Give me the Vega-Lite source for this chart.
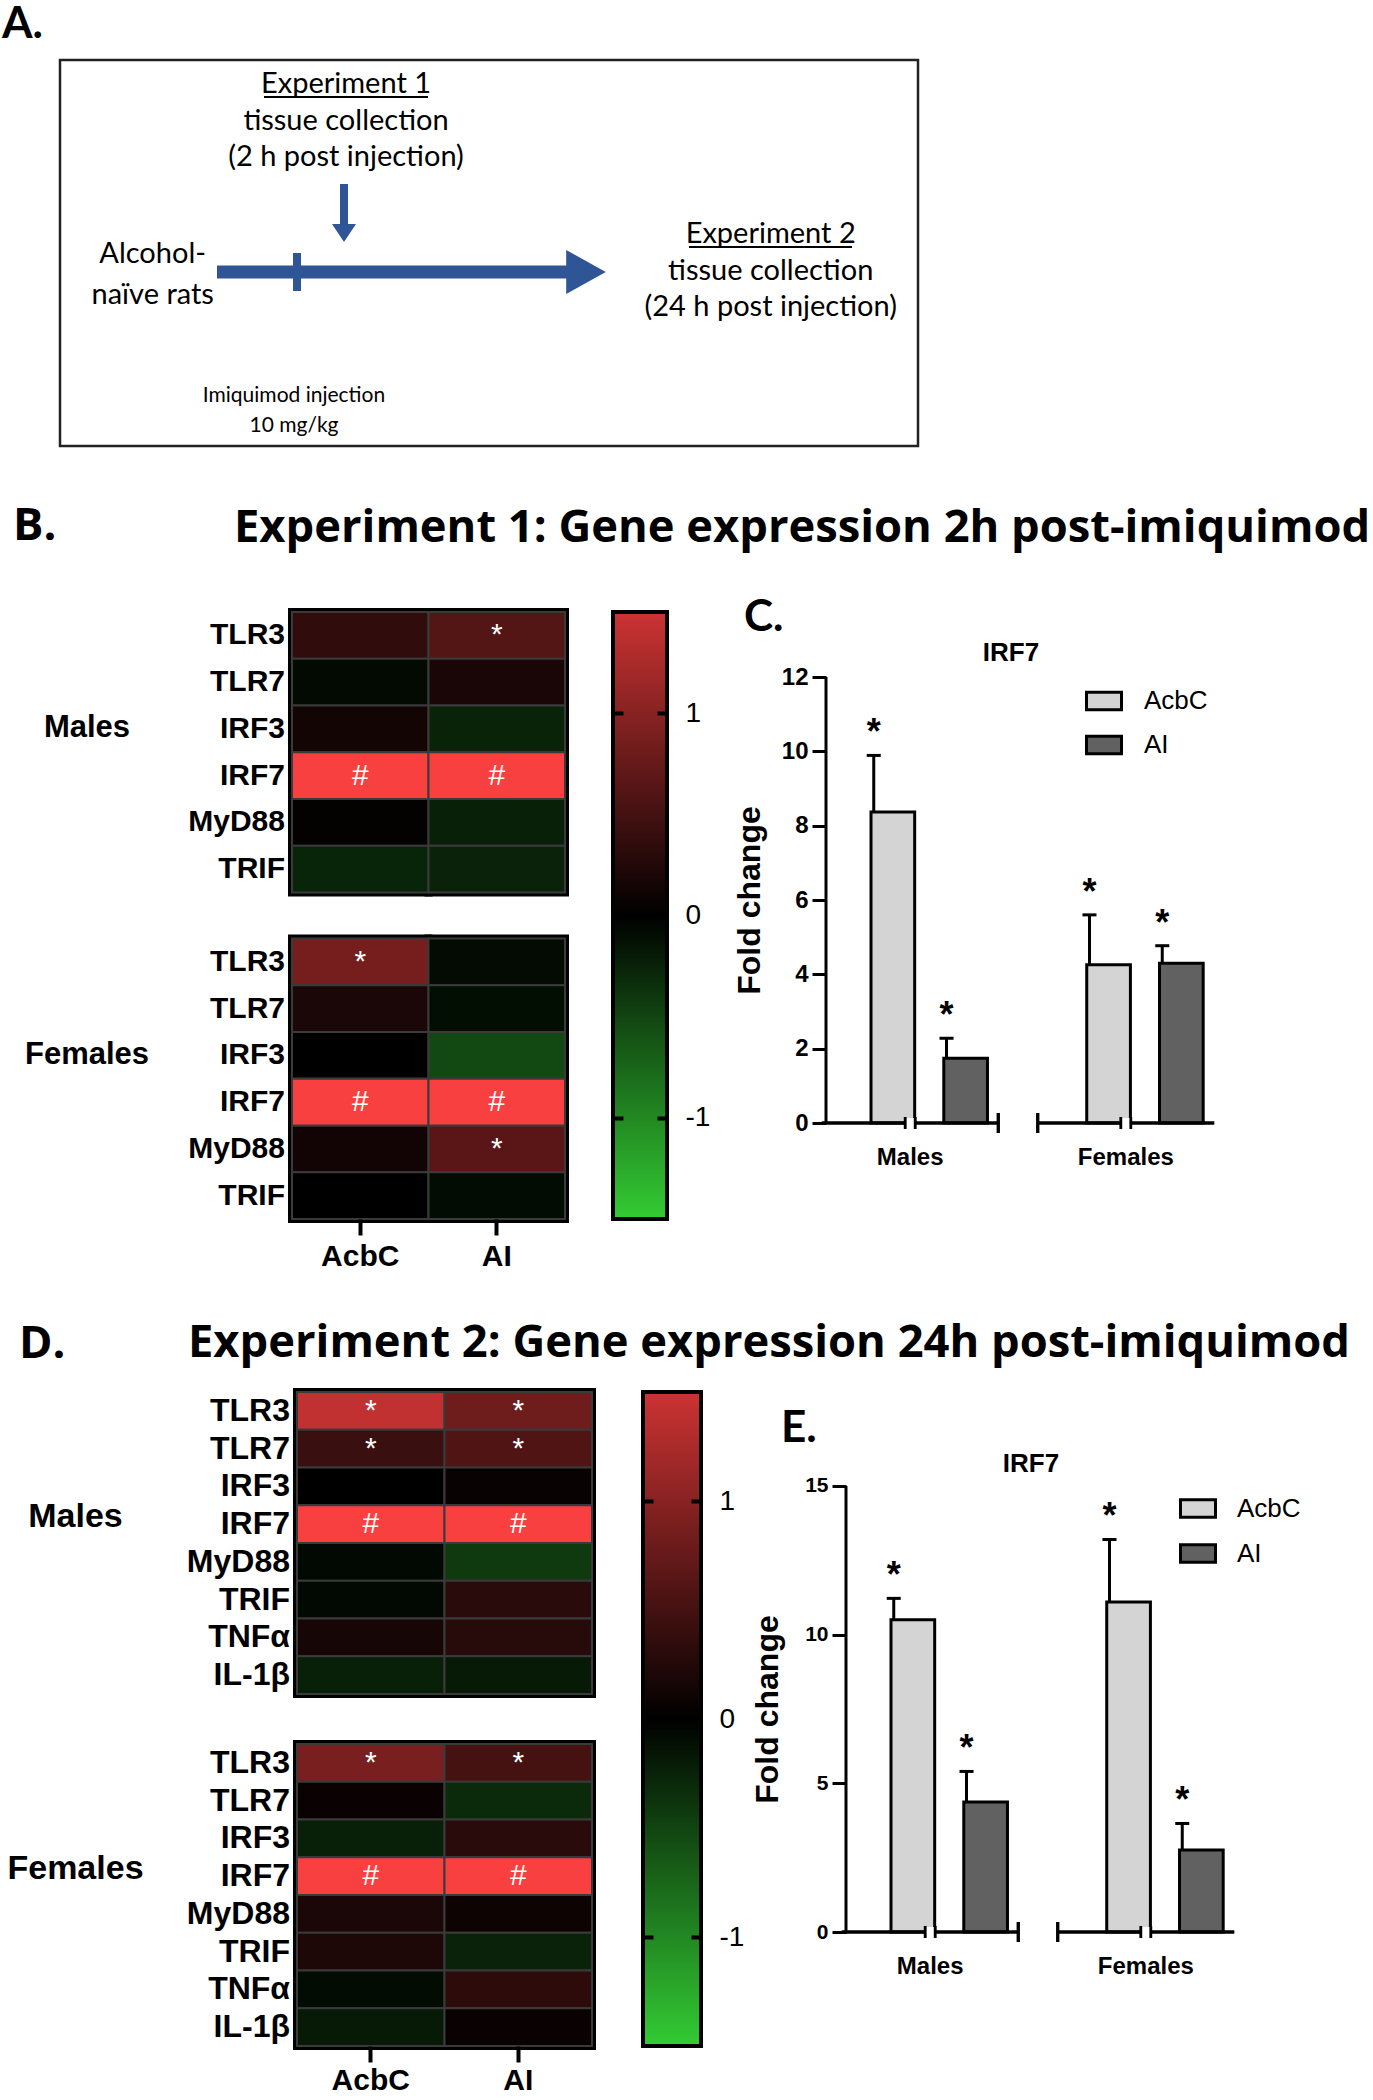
{
"$schema":"https://vega.github.io/schema/vega-lite/v6.json",
"background":"white",
"padding":0,
"spacing":43,
"resolve":{"scale":{"yOffset":"independent","xOffset":"independent","y":"independent","x":"independent","color":"independent"}},
"config":{"view":{"stroke":null},"font":"Liberation Sans","axis":{"labelColor":"black","titleColor":"black","labelFont":"Liberation Sans","titleFont":"Liberation Sans","tickColor":"black","domainColor":"black","labelOverlap":false,"labelFlush":false},"legend":{"labelColor":"black"},"title":{"color":"black"}},
"datasets":{
"b":[{"sex":"Males","gene":"TLR3","region":"AcbC","value":0.35,"sig":""},{"sex":"Males","gene":"TLR3","region":"AI","value":0.62,"sig":"*"},{"sex":"Males","gene":"TLR7","region":"AcbC","value":-0.07,"sig":""},{"sex":"Males","gene":"TLR7","region":"AI","value":0.19,"sig":""},{"sex":"Males","gene":"IRF3","region":"AcbC","value":0.15,"sig":""},{"sex":"Males","gene":"IRF3","region":"AI","value":-0.26,"sig":""},{"sex":"Males","gene":"IRF7","region":"AcbC","value":3,"sig":"#"},{"sex":"Males","gene":"IRF7","region":"AI","value":3,"sig":"#"},{"sex":"Males","gene":"MyD88","region":"AcbC","value":0.03,"sig":""},{"sex":"Males","gene":"MyD88","region":"AI","value":-0.23,"sig":""},{"sex":"Males","gene":"TRIF","region":"AcbC","value":-0.27,"sig":""},{"sex":"Males","gene":"TRIF","region":"AI","value":-0.25,"sig":""},
{"sex":"Females","gene":"TLR3","region":"AcbC","value":0.87,"sig":"*"},{"sex":"Females","gene":"TLR3","region":"AI","value":-0.08,"sig":""},{"sex":"Females","gene":"TLR7","region":"AcbC","value":0.2,"sig":""},{"sex":"Females","gene":"TLR7","region":"AI","value":-0.1,"sig":""},{"sex":"Females","gene":"IRF3","region":"AcbC","value":0.0,"sig":""},{"sex":"Females","gene":"IRF3","region":"AI","value":-0.53,"sig":""},{"sex":"Females","gene":"IRF7","region":"AcbC","value":3,"sig":"#"},{"sex":"Females","gene":"IRF7","region":"AI","value":3,"sig":"#"},{"sex":"Females","gene":"MyD88","region":"AcbC","value":0.13,"sig":""},{"sex":"Females","gene":"MyD88","region":"AI","value":0.66,"sig":"*"},{"sex":"Females","gene":"TRIF","region":"AcbC","value":0.0,"sig":""},{"sex":"Females","gene":"TRIF","region":"AI","value":-0.09,"sig":""}],
"d":[{"sex":"Males","gene":"TLR3","region":"AcbC","value":1.43,"sig":"*"},{"sex":"Males","gene":"TLR3","region":"AI","value":0.81,"sig":"*"},{"sex":"Males","gene":"TLR7","region":"AcbC","value":0.43,"sig":"*"},{"sex":"Males","gene":"TLR7","region":"AI","value":0.59,"sig":"*"},{"sex":"Males","gene":"IRF3","region":"AcbC","value":0.0,"sig":""},{"sex":"Males","gene":"IRF3","region":"AI","value":0.06,"sig":""},{"sex":"Males","gene":"IRF7","region":"AcbC","value":3,"sig":"#"},{"sex":"Males","gene":"IRF7","region":"AI","value":3,"sig":"#"},{"sex":"Males","gene":"MyD88","region":"AcbC","value":-0.06,"sig":""},{"sex":"Males","gene":"MyD88","region":"AI","value":-0.43,"sig":""},{"sex":"Males","gene":"TRIF","region":"AcbC","value":-0.06,"sig":""},{"sex":"Males","gene":"TRIF","region":"AI","value":0.31,"sig":""},{"sex":"Males","gene":"TNFα","region":"AcbC","value":0.17,"sig":""},{"sex":"Males","gene":"TNFα","region":"AI","value":0.29,"sig":""},{"sex":"Males","gene":"IL-1β","region":"AcbC","value":-0.23,"sig":""},{"sex":"Males","gene":"IL-1β","region":"AI","value":-0.19,"sig":""},
{"sex":"Females","gene":"TLR3","region":"AcbC","value":0.9,"sig":"*"},{"sex":"Females","gene":"TLR3","region":"AI","value":0.51,"sig":"*"},{"sex":"Females","gene":"TLR7","region":"AcbC","value":0.07,"sig":""},{"sex":"Females","gene":"TLR7","region":"AI","value":-0.31,"sig":""},{"sex":"Females","gene":"IRF3","region":"AcbC","value":-0.23,"sig":""},{"sex":"Females","gene":"IRF3","region":"AI","value":0.31,"sig":""},{"sex":"Females","gene":"IRF7","region":"AcbC","value":3,"sig":"#"},{"sex":"Females","gene":"IRF7","region":"AI","value":3,"sig":"#"},{"sex":"Females","gene":"MyD88","region":"AcbC","value":0.2,"sig":""},{"sex":"Females","gene":"MyD88","region":"AI","value":0.1,"sig":""},{"sex":"Females","gene":"TRIF","region":"AcbC","value":0.22,"sig":""},{"sex":"Females","gene":"TRIF","region":"AI","value":-0.25,"sig":""},{"sex":"Females","gene":"TNFα","region":"AcbC","value":-0.09,"sig":""},{"sex":"Females","gene":"TNFα","region":"AI","value":0.33,"sig":""},{"sex":"Females","gene":"IL-1β","region":"AcbC","value":-0.19,"sig":""},{"sex":"Females","gene":"IL-1β","region":"AI","value":0.07,"sig":""}],
"c":[{"sex":"Males","region":"AcbC","mean":8.37,"upper":9.89,"sig":"*"},{"sex":"Males","region":"AI","mean":1.74,"upper":2.28,"sig":"*"},{"sex":"Females","region":"AcbC","mean":4.26,"upper":5.6,"sig":"*"},{"sex":"Females","region":"AI","mean":4.3,"upper":4.77,"sig":"*"}],
"e":[{"sex":"Males","region":"AcbC","mean":10.5,"upper":11.22,"sig":"*"},{"sex":"Males","region":"AI","mean":4.37,"upper":5.4,"sig":"*"},{"sex":"Females","region":"AcbC","mean":11.1,"upper":13.2,"sig":"*"},{"sex":"Females","region":"AI","mean":2.76,"upper":3.65,"sig":"*"}]
},
"vconcat":[
{"width":1000,"height":460,"data":{"values":[{}]},"layer":[
{"mark":{"type":"text","text":"A.","font":"Lato","fontWeight":"bold","fontSize":44,"align":"left","baseline":"alphabetic","color":"black"},"encoding":{"x":{"datum":0.2,"type":"quantitative","scale":{"domain":[0,100]},"axis":null},"y":{"datum":6.3,"type":"quantitative","scale":{"domain":[0,76.667],"reverse":true},"axis":null}}},
{"mark":{"type":"rect","fillOpacity":0,"stroke":"#222222","strokeWidth":2.5},"encoding":{"x":{"datum":6,"type":"quantitative","scale":{"domain":[0,100]},"axis":null},"x2":{"datum":91.8},"y":{"datum":10,"type":"quantitative","scale":{"domain":[0,76.667],"reverse":true},"axis":null},"y2":{"datum":74.33}}},
{"mark":{"type":"text","text":"Experiment 1","font":"Lato","fontSize":29,"align":"center","baseline":"middle","color":"black"},"encoding":{"x":{"datum":34.6,"type":"quantitative","scale":{"domain":[0,100]},"axis":null},"y":{"datum":14,"type":"quantitative","scale":{"domain":[0,76.667],"reverse":true},"axis":null}}},
{"mark":{"type":"rule","strokeWidth":2,"color":"black"},"encoding":{"x":{"datum":26.4,"type":"quantitative","scale":{"domain":[0,100]},"axis":null},"x2":{"datum":42.8},"y":{"datum":16.17,"type":"quantitative","scale":{"domain":[0,76.667],"reverse":true},"axis":null}}},
{"mark":{"type":"text","text":"tissue collection","font":"Lato","fontSize":29,"align":"center","baseline":"middle","color":"black"},"encoding":{"x":{"datum":34.6,"type":"quantitative","scale":{"domain":[0,100]},"axis":null},"y":{"datum":20.17,"type":"quantitative","scale":{"domain":[0,76.667],"reverse":true},"axis":null}}},
{"mark":{"type":"text","text":"(2 h post injection)","font":"Lato","fontSize":29,"align":"center","baseline":"middle","color":"black"},"encoding":{"x":{"datum":34.6,"type":"quantitative","scale":{"domain":[0,100]},"axis":null},"y":{"datum":26.17,"type":"quantitative","scale":{"domain":[0,76.667],"reverse":true},"axis":null}}},
{"mark":{"type":"rule","strokeWidth":8,"color":"#2f5597"},"encoding":{"x":{"datum":34.4,"type":"quantitative","scale":{"domain":[0,100]},"axis":null},"y":{"datum":30.67,"type":"quantitative","scale":{"domain":[0,76.667],"reverse":true},"axis":null},"y2":{"datum":37.5}}},
{"mark":{"type":"point","shape":"M-1,-0.75L1,-0.75L0,0.75Z","size":576,"filled":true,"opacity":1,"color":"#2f5597"},"encoding":{"x":{"datum":34.4,"type":"quantitative","scale":{"domain":[0,100]},"axis":null},"y":{"datum":38.83,"type":"quantitative","scale":{"domain":[0,76.667],"reverse":true},"axis":null}}},
{"mark":{"type":"rule","strokeWidth":13,"color":"#2f5597"},"encoding":{"x":{"datum":21.7,"type":"quantitative","scale":{"domain":[0,100]},"axis":null},"x2":{"datum":57.0},"y":{"datum":45.33,"type":"quantitative","scale":{"domain":[0,76.667],"reverse":true},"axis":null}}},
{"mark":{"type":"point","shape":"M-0.9,-1L0.9,0L-0.9,1Z","size":1936,"filled":true,"opacity":1,"color":"#2f5597"},"encoding":{"x":{"datum":58.6,"type":"quantitative","scale":{"domain":[0,100]},"axis":null},"y":{"datum":45.33,"type":"quantitative","scale":{"domain":[0,76.667],"reverse":true},"axis":null}}},
{"mark":{"type":"rule","strokeWidth":8,"color":"#2f5597"},"encoding":{"x":{"datum":29.7,"type":"quantitative","scale":{"domain":[0,100]},"axis":null},"y":{"datum":42.17,"type":"quantitative","scale":{"domain":[0,76.667],"reverse":true},"axis":null},"y2":{"datum":48.5}}},
{"mark":{"type":"text","text":"Alcohol-","font":"Lato","fontSize":29,"align":"center","baseline":"middle","color":"black"},"encoding":{"x":{"datum":15.27,"type":"quantitative","scale":{"domain":[0,100]},"axis":null},"y":{"datum":42.33,"type":"quantitative","scale":{"domain":[0,76.667],"reverse":true},"axis":null}}},
{"mark":{"type":"text","text":"naïve rats","font":"Lato","fontSize":29,"align":"center","baseline":"middle","color":"black"},"encoding":{"x":{"datum":15.27,"type":"quantitative","scale":{"domain":[0,100]},"axis":null},"y":{"datum":49.17,"type":"quantitative","scale":{"domain":[0,76.667],"reverse":true},"axis":null}}},
{"mark":{"type":"text","text":"Experiment 2","font":"Lato","fontSize":29,"align":"center","baseline":"middle","color":"black"},"encoding":{"x":{"datum":77.07,"type":"quantitative","scale":{"domain":[0,100]},"axis":null},"y":{"datum":39.0,"type":"quantitative","scale":{"domain":[0,76.667],"reverse":true},"axis":null}}},
{"mark":{"type":"rule","strokeWidth":2,"color":"black"},"encoding":{"x":{"datum":68.9,"type":"quantitative","scale":{"domain":[0,100]},"axis":null},"x2":{"datum":85.2},"y":{"datum":41.17,"type":"quantitative","scale":{"domain":[0,76.667],"reverse":true},"axis":null}}},
{"mark":{"type":"text","text":"tissue collection","font":"Lato","fontSize":29,"align":"center","baseline":"middle","color":"black"},"encoding":{"x":{"datum":77.07,"type":"quantitative","scale":{"domain":[0,100]},"axis":null},"y":{"datum":45.17,"type":"quantitative","scale":{"domain":[0,76.667],"reverse":true},"axis":null}}},
{"mark":{"type":"text","text":"(24 h post injection)","font":"Lato","fontSize":29,"align":"center","baseline":"middle","color":"black"},"encoding":{"x":{"datum":77.07,"type":"quantitative","scale":{"domain":[0,100]},"axis":null},"y":{"datum":51.17,"type":"quantitative","scale":{"domain":[0,76.667],"reverse":true},"axis":null}}},
{"mark":{"type":"text","text":"Imiquimod injection","font":"Lato","fontSize":21,"align":"center","baseline":"middle","color":"black"},"encoding":{"x":{"datum":29.4,"type":"quantitative","scale":{"domain":[0,100]},"axis":null},"y":{"datum":66,"type":"quantitative","scale":{"domain":[0,76.667],"reverse":true},"axis":null}}},
{"mark":{"type":"text","text":"10 mg/kg","font":"Lato","fontSize":21,"align":"center","baseline":"middle","color":"black"},"encoding":{"x":{"datum":29.4,"type":"quantitative","scale":{"domain":[0,100]},"axis":null},"y":{"datum":71,"type":"quantitative","scale":{"domain":[0,76.667],"reverse":true},"axis":null}}}
]},

{"hconcat":[
{"width":292,"height":665,"data":{"values":[]},"mark":"point","title":{"text":"B.","anchor":"start","frame":"group","dx":13,"offset":27,"baseline":"alphabetic","font":"Open Sans","fontSize":45.3,"fontWeight":"bold","color":"black"}},
{"width":273,"height":607,
"title":{"text":"Experiment 1: Gene expression 2h post-imiquimod","anchor":"start","frame":"group","dx":-58,"offset":21,"baseline":"alphabetic","font":"Open Sans","fontSize":45.3,"fontWeight":"bold","color":"black"},
"data":{"name":"b"},
"encoding":{"x":{"field":"region","type":"nominal","scale":{"domain":["AcbC","AI"],"paddingInner":0,"paddingOuter":0},"axis":{"orient":"bottom","title":null,"labelAngle":0,"labelFontSize":30,"labelFontWeight":"bold","labelPadding":6,"tickSize":16,"tickWidth":4,"domain":false}},
"y":{"field":"sex","type":"nominal","scale":{"domain":["Males","Females"],"paddingInner":0.1409,"paddingOuter":0},"axis":{"title":null,"labelAlign":"center","labelBaseline":"middle","offset":190,"labelPadding":15.5,"labelOffset":-24,"labelFontSize":31,"labelFontWeight":"bold","ticks":false,"domain":false}},
"yOffset":{"field":"gene","type":"nominal","scale":{"domain":["TLR3","TLR7","IRF3","IRF7","MyD88","TRIF"],"range":[0,280.5],"paddingInner":0,"paddingOuter":0}}},
"layer":[
{"mark":{"type":"rect","fill":"black","stroke":"black","strokeWidth":8}},
{"mark":{"type":"rect","stroke":"#3a3a3a","strokeWidth":2},"encoding":{"color":{"field":"value","type":"quantitative","scale":{"domain":[-1.5,0,1.5],"range":["#33cc33","#000000","#cc3333"],"clamp":true,"interpolate":"rgb"},"legend":null}}},
{"transform":[{"filter":"datum.sig === '#'"}],"mark":{"type":"rect","fill":"#f84040","stroke":"#3a3a3a","strokeWidth":2}},
{"mark":{"type":"text","color":"white","fontSize":30,"baseline":"middle"},"encoding":{"text":{"field":"sig"}}},
{"transform":[{"filter":"datum.region === 'AcbC'"}],"mark":{"type":"text","align":"right","baseline":"middle","dx":-7,"fontSize":30,"fontWeight":"bold","color":"black"},"encoding":{"x":{"field":"region","type":"nominal","bandPosition":0},"text":{"field":"gene"}}}
]},
{"width":48,"height":10,"data":{"values":[]},"mark":"point"},
{"width":54,"height":607,"data":{"values":[{}]},
"mark":{"type":"rect","stroke":"black","strokeWidth":4,"fill":{"gradient":"linear","x1":0,"y1":1,"x2":0,"y2":0,"stops":[{"offset":0,"color":"#33cc33"},{"offset":0.5,"color":"#000000"},{"offset":1,"color":"#cc3333"}]}},
"encoding":{"x":{"value":0},"x2":{"value":"width"},
"y":{"datum":-1.5,"type":"quantitative","scale":{"domain":[-1.5,1.5],"nice":false,"zero":false},"axis":{"orient":"right","values":[-1,0,1],"labelExpr":"replace(datum.label, '\u2212', '-')","labelFontSize":28,"labelPadding":18,"ticks":false,"domain":false,"grid":true,"gridColor":"black","gridWidth":4,"gridDash":[10,34,10],"gridOpacity":1,"zindex":1,"title":null}},
"y2":{"datum":1.5}}},
{"width":159,"height":446,"data":{"values":[]},"mark":"point","title":{"text":"C.","anchor":"start","frame":"group","dx":77,"offset":-63,"baseline":"alphabetic","font":"Lato","fontSize":44,"fontWeight":"bold","color":"black"}},
{"width":384,"height":511,
"title":{"text":"IRF7","font":"Liberation Sans","fontSize":26,"fontWeight":"bold","color":"black","dx":-7,"offset":-75,"baseline":"alphabetic","anchor":"middle","frame":"group"},
"data":{"name":"c"},
"encoding":{"x":{"field":"sex","type":"nominal","scale":{"domain":["Males","Females"],"paddingInner":0.22,"paddingOuter":0},"axis":{"title":null,"labelAngle":0,"labelFontSize":24,"labelFontWeight":"bold","ticks":false,"domain":false,"labelPadding":22}}},
"layer":[
{"mark":{"type":"bar","stroke":"black","strokeWidth":3,"width":{"band":0.6}},
"encoding":{"xOffset":{"field":"region","type":"nominal","scale":{"domain":["AcbC","AI"],"paddingInner":0,"paddingOuter":0.156}},
"y":{"field":"mean","type":"quantitative","scale":{"domain":[0,13.749],"nice":false},"axis":{"title":"Fold change","values":[0,2,4,6,8,10,12],"labelFontSize":24,"labelFontWeight":"bold","labelPadding":4,"tickSize":14,"tickWidth":3,"domain":false,"titleFontSize":32,"titleFontWeight":"bold","titlePadding":15,"titleY":288,"grid":false}},
"color":{"field":"region","type":"nominal","scale":{"domain":["AcbC","AI"],"range":["#d4d4d4","#616161"]},"legend":{"title":null,"orient":"none","legendX":259,"legendY":70,"direction":"vertical","symbolType":"M-1,-0.5H1V0.5H-1Z","symbolSize":1225,"symbolStrokeColor":"black","symbolStrokeWidth":3,"symbolOpacity":1,"labelFontSize":26,"labelFont":"Liberation Sans","labelOffset":21,"rowPadding":10,"padding":0}}}},
{"data":{"values":[{}]},"mark":{"type":"rule","strokeWidth":3,"color":"black"},"encoding":{"x":{"value":0},"y":{"datum":0,"type":"quantitative"},"y2":{"datum":12}}},
{"mark":{"type":"bar","fillOpacity":0,"stroke":"black","strokeWidth":3,"width":{"band":1.05}},"encoding":{"y":{"datum":0,"type":"quantitative"},"y2":{"datum":0}}},
{"mark":{"type":"bar","fill":"white","width":9,"yOffset":-5,"y2Offset":5},"encoding":{"y":{"datum":0,"type":"quantitative"},"y2":{"datum":0}}},
{"mark":{"type":"rule","strokeWidth":2.5,"color":"black","xOffset":-5,"yOffset":-6,"y2Offset":6},"encoding":{"y":{"datum":0,"type":"quantitative"},"y2":{"datum":0}}},
{"mark":{"type":"rule","strokeWidth":2.5,"color":"black","xOffset":5,"yOffset":-6,"y2Offset":6},"encoding":{"y":{"datum":0,"type":"quantitative"},"y2":{"datum":0}}},
{"transform":[{"filter":"datum.sex === 'Males'"}],"mark":{"type":"rule","strokeWidth":3,"color":"black","xOffset":4,"yOffset":-10,"y2Offset":10},"encoding":{"x":{"field":"sex","type":"nominal","bandPosition":1},"y":{"datum":0,"type":"quantitative"},"y2":{"datum":0}}},
{"transform":[{"filter":"datum.sex === 'Females'"}],"mark":{"type":"rule","strokeWidth":3,"color":"black","xOffset":-4,"yOffset":-10,"y2Offset":10},"encoding":{"x":{"field":"sex","type":"nominal","bandPosition":0},"y":{"datum":0,"type":"quantitative"},"y2":{"datum":0}}},
{"mark":{"type":"rule","strokeWidth":3,"color":"black"},"encoding":{"xOffset":{"field":"region","type":"nominal"},"y":{"field":"mean","type":"quantitative"},"y2":{"field":"upper"}}},
{"mark":{"type":"tick","orient":"horizontal","size":14,"thickness":3,"color":"black","opacity":1},"encoding":{"xOffset":{"field":"region","type":"nominal"},"y":{"field":"upper","type":"quantitative"}}},
{"mark":{"type":"text","fontSize":36,"fontWeight":"bold","baseline":"alphabetic","dy":-11,"color":"black"},"encoding":{"xOffset":{"field":"region","type":"nominal"},"y":{"field":"upper","type":"quantitative"},"text":{"field":"sig"}}}
]}
],"spacing":0,"bounds":"flush","resolve":{"scale":{"yOffset":"independent","xOffset":"independent"}}},

{"hconcat":[
{"width":297,"height":654,"data":{"values":[]},"mark":"point","title":{"text":"D.","anchor":"start","frame":"group","dx":19,"offset":-11,"baseline":"alphabetic","font":"Open Sans","fontSize":45.3,"fontWeight":"bold","color":"black"}},
{"width":295,"height":654,
"title":{"text":"Experiment 2: Gene expression 24h post-imiquimod","anchor":"start","frame":"group","dx":-109,"offset":-14,"baseline":"alphabetic","font":"Open Sans","fontSize":45.3,"fontWeight":"bold","color":"black"},
"data":{"name":"d"},
"encoding":{"x":{"field":"region","type":"nominal","scale":{"domain":["AcbC","AI"],"paddingInner":0,"paddingOuter":0},"axis":{"orient":"bottom","title":null,"labelAngle":0,"labelFontSize":30,"labelFontWeight":"bold","labelPadding":3,"tickSize":16,"tickWidth":4,"domain":false}},
"y":{"field":"sex","type":"nominal","scale":{"domain":["Males","Females"],"paddingInner":0.142,"paddingOuter":0},"axis":{"title":null,"labelAlign":"center","labelBaseline":"middle","offset":205,"labelPadding":17,"labelOffset":-26,"labelFontSize":34,"labelFontWeight":"bold","ticks":false,"domain":false}},
"yOffset":{"field":"gene","type":"nominal","scale":{"domain":["TLR3","TLR7","IRF3","IRF7","MyD88","TRIF","TNFα","IL-1β"],"range":[0,302],"paddingInner":0,"paddingOuter":0}}},
"layer":[
{"mark":{"type":"rect","fill":"black","stroke":"black","strokeWidth":8}},
{"mark":{"type":"rect","stroke":"#3a3a3a","strokeWidth":2},"encoding":{"color":{"field":"value","type":"quantitative","scale":{"domain":[-1.5,0,1.5],"range":["#33cc33","#000000","#cc3333"],"clamp":true,"interpolate":"rgb"},"legend":null}}},
{"transform":[{"filter":"datum.sig === '#'"}],"mark":{"type":"rect","fill":"#f84040","stroke":"#3a3a3a","strokeWidth":2}},
{"mark":{"type":"text","color":"white","fontSize":30,"baseline":"middle"},"encoding":{"text":{"field":"sig"}}},
{"transform":[{"filter":"datum.region === 'AcbC'"}],"mark":{"type":"text","align":"right","baseline":"middle","dx":-7,"fontSize":32,"fontWeight":"bold","color":"black"},"encoding":{"x":{"field":"region","type":"nominal","bandPosition":0},"text":{"field":"gene"}}}
]},
{"width":51,"height":10,"data":{"values":[]},"mark":"point"},
{"width":58,"height":654,"data":{"values":[{}]},
"mark":{"type":"rect","stroke":"black","strokeWidth":4,"fill":{"gradient":"linear","x1":0,"y1":1,"x2":0,"y2":0,"stops":[{"offset":0,"color":"#33cc33"},{"offset":0.5,"color":"#000000"},{"offset":1,"color":"#cc3333"}]}},
"encoding":{"x":{"value":0},"x2":{"value":"width"},
"y":{"datum":-1.5,"type":"quantitative","scale":{"domain":[-1.5,1.5],"nice":false,"zero":false},"axis":{"orient":"right","values":[-1,0,1],"labelExpr":"replace(datum.label, '\u2212', '-')","labelFontSize":28,"labelPadding":18,"ticks":false,"domain":false,"grid":true,"gridColor":"black","gridWidth":4,"gridDash":[10,38,10],"gridOpacity":1,"zindex":1,"title":null}},
"y2":{"datum":1.5}}},
{"width":145,"height":446,"data":{"values":[]},"mark":"point","title":{"text":"E.","anchor":"start","frame":"group","dx":80,"offset":-94,"baseline":"alphabetic","font":"Lato","fontSize":44,"fontWeight":"bold","color":"black"}},
{"width":384,"height":540,
"title":{"text":"IRF7","font":"Liberation Sans","fontSize":26,"fontWeight":"bold","color":"black","dx":-7,"offset":-106,"baseline":"alphabetic","anchor":"middle","frame":"group"},
"data":{"name":"e"},
"encoding":{"x":{"field":"sex","type":"nominal","scale":{"domain":["Males","Females"],"paddingInner":0.22,"paddingOuter":0},"axis":{"title":null,"labelAngle":0,"labelFontSize":24,"labelFontWeight":"bold","ticks":false,"domain":false,"labelPadding":22}}},
"layer":[
{"mark":{"type":"bar","stroke":"black","strokeWidth":3,"width":{"band":0.6}},
"encoding":{"xOffset":{"field":"region","type":"nominal","scale":{"domain":["AcbC","AI"],"paddingInner":0,"paddingOuter":0.156}},
"y":{"field":"mean","type":"quantitative","scale":{"domain":[0,18.16],"nice":false},"axis":{"title":"Fold change","values":[0,5,10,15],"labelFontSize":21,"labelFontWeight":"bold","labelPadding":4,"tickSize":14,"tickWidth":3,"domain":false,"titleFontSize":32,"titleFontWeight":"bold","titlePadding":20,"titleY":317,"grid":false}},
"color":{"field":"region","type":"nominal","scale":{"domain":["AcbC","AI"],"range":["#d4d4d4","#616161"]},"legend":{"title":null,"orient":"none","legendX":333,"legendY":97.5,"direction":"vertical","symbolType":"M-1,-0.5H1V0.5H-1Z","symbolSize":1225,"symbolStrokeColor":"black","symbolStrokeWidth":3,"symbolOpacity":1,"labelFontSize":26,"labelFont":"Liberation Sans","labelOffset":20,"rowPadding":11,"padding":0}}}},
{"data":{"values":[{}]},"mark":{"type":"rule","strokeWidth":3,"color":"black"},"encoding":{"x":{"value":0},"y":{"datum":0,"type":"quantitative"},"y2":{"datum":15}}},
{"mark":{"type":"bar","fillOpacity":0,"stroke":"black","strokeWidth":3,"width":{"band":1.05}},"encoding":{"y":{"datum":0,"type":"quantitative"},"y2":{"datum":0}}},
{"mark":{"type":"bar","fill":"white","width":9,"yOffset":-5,"y2Offset":5},"encoding":{"y":{"datum":0,"type":"quantitative"},"y2":{"datum":0}}},
{"mark":{"type":"rule","strokeWidth":2.5,"color":"black","xOffset":-5,"yOffset":-6,"y2Offset":6},"encoding":{"y":{"datum":0,"type":"quantitative"},"y2":{"datum":0}}},
{"mark":{"type":"rule","strokeWidth":2.5,"color":"black","xOffset":5,"yOffset":-6,"y2Offset":6},"encoding":{"y":{"datum":0,"type":"quantitative"},"y2":{"datum":0}}},
{"transform":[{"filter":"datum.sex === 'Males'"}],"mark":{"type":"rule","strokeWidth":3,"color":"black","xOffset":4,"yOffset":-10,"y2Offset":10},"encoding":{"x":{"field":"sex","type":"nominal","bandPosition":1},"y":{"datum":0,"type":"quantitative"},"y2":{"datum":0}}},
{"transform":[{"filter":"datum.sex === 'Females'"}],"mark":{"type":"rule","strokeWidth":3,"color":"black","xOffset":-4,"yOffset":-10,"y2Offset":10},"encoding":{"x":{"field":"sex","type":"nominal","bandPosition":0},"y":{"datum":0,"type":"quantitative"},"y2":{"datum":0}}},
{"mark":{"type":"rule","strokeWidth":3,"color":"black"},"encoding":{"xOffset":{"field":"region","type":"nominal"},"y":{"field":"mean","type":"quantitative"},"y2":{"field":"upper"}}},
{"mark":{"type":"tick","orient":"horizontal","size":14,"thickness":3,"color":"black","opacity":1},"encoding":{"xOffset":{"field":"region","type":"nominal"},"y":{"field":"upper","type":"quantitative"}}},
{"mark":{"type":"text","fontSize":36,"fontWeight":"bold","baseline":"alphabetic","dy":-11,"color":"black"},"encoding":{"xOffset":{"field":"region","type":"nominal"},"y":{"field":"upper","type":"quantitative"},"text":{"field":"sig"}}}
]}
],"spacing":0,"bounds":"flush","resolve":{"scale":{"yOffset":"independent","xOffset":"independent"}}}
]
}
